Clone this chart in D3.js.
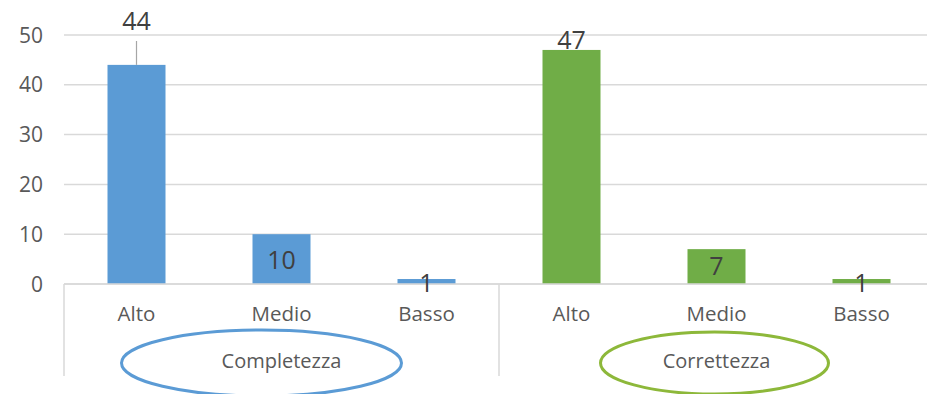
<!DOCTYPE html>
<html>
<head>
<meta charset="utf-8">
<script src="https://cdn.jsdelivr.net/npm/d3@7"></script>
<style>
  html, body { margin: 0; padding: 0; background: #fff; }
  svg { display: block; font-family: "Open Sans", "Liberation Sans", sans-serif; }
</style>
</head>
<body>
<svg id="chart" width="927" height="394"></svg>
<script>
// Grouped category data: two quality dimensions, three levels each
const groups = ["Completezza", "Correttezza"];
const levels = ["Alto", "Medio", "Basso"];
const completezzaValues = [44, 10, 1];
const correttezzaValues = [47, 7, 1];
const yTicks = [0, 10, 20, 30, 40, 50];

const groupColors = { Completezza: "#5B9BD5", Correttezza: "#70AD47" };
const ringColors = { Completezza: "#5B9BD5", Correttezza: "#8DB83A" };

const rows = [];
groups.forEach((g, gi) => {
  const vals = gi === 0 ? completezzaValues : correttezzaValues;
  levels.forEach((l, li) => rows.push({ group: g, level: l, value: vals[li], key: g + "|" + l }));
});

const svg = d3.select("#chart");
const left = 64, right = 934, yBase = 284, yTop = 35;

const x = d3.scaleBand().domain(rows.map(d => d.key)).range([left, right]).paddingInner(0.6).paddingOuter(0.3);
const y = d3.scaleLinear().domain([0, 50]).range([yBase, yTop]);

// horizontal gridlines
svg.append("g").selectAll("line").data(yTicks).join("line")
  .attr("x1", left).attr("x2", 927)
  .attr("y1", d => y(d)).attr("y2", d => y(d))
  .attr("stroke", "#d9d9d9").attr("stroke-width", 1.5);

// y-axis labels
svg.append("g").selectAll("text").data(yTicks).join("text")
  .attr("x", 43).attr("y", d => y(d)).attr("dy", "0.36em")
  .attr("text-anchor", "end").attr("font-size", 21).attr("fill", "#595959")
  .text(d => d);

// group separators below the baseline
const step = x.step();
const groupEdges = [left, left + step * 3];
svg.append("g").selectAll("line").data(groupEdges).join("line")
  .attr("x1", d => d).attr("x2", d => d)
  .attr("y1", yBase).attr("y2", 376)
  .attr("stroke", "#d9d9d9").attr("stroke-width", 1.5);

// bars
svg.append("g").selectAll("rect").data(rows).join("rect")
  .attr("x", d => x(d.key)).attr("width", x.bandwidth())
  .attr("y", d => y(d.value)).attr("height", d => yBase - y(d.value))
  .attr("fill", d => groupColors[d.group]);

// baseline
svg.append("line").attr("x1", left).attr("x2", 927).attr("y1", yBase).attr("y2", yBase)
  .attr("stroke", "#d9d9d9").attr("stroke-width", 1.5);

// category labels
svg.append("g").selectAll("text").data(rows).join("text")
  .attr("x", d => x(d.key) + x.bandwidth() / 2).attr("y", 314).attr("dy", "0.36em")
  .attr("text-anchor", "middle").attr("font-size", 20.5).attr("fill", "#595959")
  .text(d => d.level);

// value labels with per-bar placement
const labelPos = {
  "Completezza|Alto": { y: d => 21, leader: true },
  "Completezza|Medio": { y: d => y(d.value) + 26 },
  "Completezza|Basso": { y: d => yBase - 1 },
  "Correttezza|Alto": { y: d => y(d.value) - 10 },
  "Correttezza|Medio": { y: d => y(d.value) + 17 },
  "Correttezza|Basso": { y: d => yBase - 1 }
};
const cx = d => x(d.key) + x.bandwidth() / 2;

svg.append("g").selectAll("line").data(rows.filter(d => labelPos[d.key].leader)).join("line")
  .attr("x1", cx).attr("x2", cx).attr("y1", 41).attr("y2", d => y(d.value))
  .attr("stroke", "#a6a6a6").attr("stroke-width", 1.2);

svg.append("g").selectAll("text").data(rows).join("text")
  .attr("x", cx).attr("y", d => labelPos[d.key].y(d)).attr("dy", "0.36em")
  .attr("text-anchor", "middle").attr("font-size", 25).attr("fill", "#404040")
  .text(d => d.value);

// group labels with hand-drawn style rings
const groupCenter = g => {
  const keys = rows.filter(r => r.group === g).map(r => r.key);
  return (x(keys[0]) + x(keys[keys.length - 1]) + x.bandwidth()) / 2;
};
const ringShape = {
  Completezza: { dx: -20, rx: 140, ry: 33 },
  Correttezza: { dx: -2, rx: 114, ry: 31 }
};
svg.append("g").selectAll("ellipse").data(groups).join("ellipse")
  .attr("cx", g => groupCenter(g) + ringShape[g].dx).attr("cy", 363)
  .attr("rx", g => ringShape[g].rx).attr("ry", g => ringShape[g].ry)
  .attr("fill", "none").attr("stroke", g => ringColors[g]).attr("stroke-width", 3);

svg.append("g").selectAll("text").data(groups).join("text")
  .attr("x", groupCenter).attr("y", 361).attr("dy", "0.36em")
  .attr("text-anchor", "middle").attr("font-size", 20).attr("fill", "#595959")
  .text(g => g);
</script>
</body>
</html>
